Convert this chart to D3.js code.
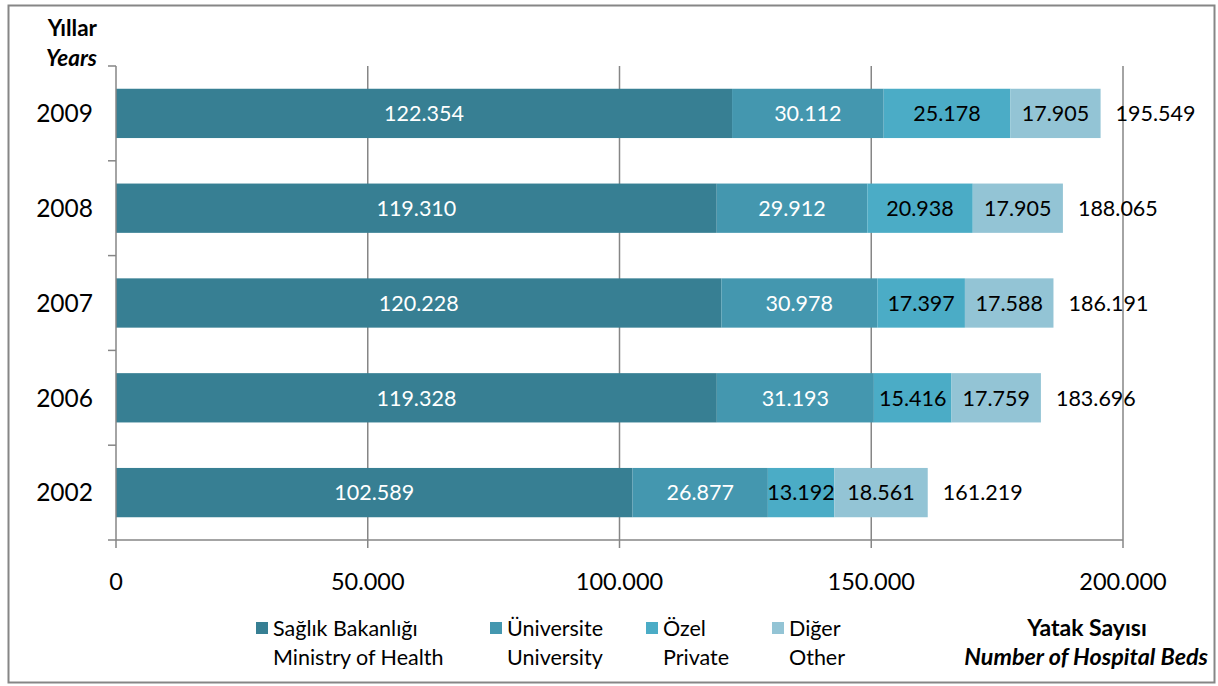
<!DOCTYPE html>
<html><head><meta charset="utf-8">
<script src="https://cdn.jsdelivr.net/npm/d3@7"></script>
<style>body{margin:0;background:#fff}svg{display:block}text{font-family:Lato,"Open Sans",sans-serif}</style>
</head><body><svg id="c" width="1218" height="686"></svg>
<script>
const years = ["2009","2008","2007","2006","2002"];
const seriesNames = ["Sağlık Bakanlığı","Üniversite","Özel","Diğer"];
const seriesNamesEn = ["Ministry of Health","University","Private","Other"];
const saglik = [122354,119310,120228,119328,102589];
const universite = [30112,29912,30978,31193,26877];
const ozel = [25178,20938,17397,15416,13192];
const diger = [17905,17905,17588,17759,18561];
const totals = [195549,188065,186191,183696,161219];
const xTicks = [0,50000,100000,150000,200000];
const colors = ["#377F93","#4497AF","#4BACC6","#93C4D5"];
const labelColors = ["#fff","#fff","#000","#000"];

const loc = d3.formatLocale({decimal:",",thousands:".",grouping:[3],currency:["",""]});
const fmt = loc.format(",d");

const svg = d3.select("#c");
svg.append("rect").attr("x",8.5).attr("y",5.5).attr("width",1206).attr("height",677)
  .attr("fill","#fff").attr("stroke","#868686").attr("stroke-width",2);

const x = d3.scaleLinear().domain([0,200000]).range([116,1123]);
const y = d3.scaleBand().domain(years).range([66,540]).paddingInner(0.48).paddingOuter(0.24);

const rows = years.map((yr,i)=>({year:yr, vals:[saglik[i],universite[i],ozel[i],diger[i]], total:totals[i]}));
const stack = d3.stack().keys([0,1,2,3]).value((d,k)=>d.vals[k]);
const stacked = stack(rows);

// gridlines
svg.append("g").selectAll("line").data(xTicks.slice(1)).join("line")
  .attr("x1",d=>x(d)).attr("x2",d=>x(d)).attr("y1",66).attr("y2",548)
  .attr("stroke","#868686").attr("stroke-width",1.5);

// bars
stacked.forEach((s,k)=>{
  const g = svg.append("g");
  g.selectAll("rect").data(s).join("rect")
    .attr("x",d=>x(d[0])).attr("width",d=>x(d[1])-x(d[0]))
    .attr("y",d=>y(d.data.year)).attr("height",y.bandwidth())
    .attr("fill",colors[k]);
  g.selectAll("text").data(s).join("text")
    .attr("x",d=>(x(d[0])+x(d[1]))/2).attr("y",d=>y(d.data.year)+y.bandwidth()/2)
    .attr("dy","0.36em").attr("text-anchor","middle").attr("font-size",21.5)
    .attr("fill",labelColors[k]).text(d=>fmt(d[1]-d[0]));
});
// totals
svg.append("g").selectAll("text").data(rows).join("text")
  .attr("x",d=>x(d.total)+15).attr("y",d=>y(d.year)+y.bandwidth()/2).attr("dy","0.36em")
  .attr("font-size",21.5).attr("fill","#000").text(d=>fmt(d.total));

// axes
const axG = svg.append("g").attr("stroke","#868686").attr("stroke-width",1.5);
axG.append("line").attr("x1",x(0)).attr("x2",x(200000)).attr("y1",540).attr("y2",540);
axG.append("line").attr("x1",x(0)).attr("x2",x(0)).attr("y1",66).attr("y2",548);
const bounds = [66].concat(years.map(yr=>y(yr)+y.bandwidth()+y.step()*y.paddingInner()/2).slice(0,4)).concat([540]);
axG.selectAll("line.t").data(bounds).join("line").attr("class","t")
  .attr("x1",x(0)-8).attr("x2",x(0)).attr("y1",d=>d).attr("y2",d=>d);

svg.append("g").selectAll("text").data(xTicks).join("text")
  .attr("x",d=>x(d)).attr("y",582).attr("dy","0.36em").attr("text-anchor","middle")
  .attr("font-size",23.5).text(d=>fmt(d));
svg.append("g").selectAll("text").data(years).join("text")
  .attr("x",93).attr("y",d=>y(d)+y.bandwidth()/2).attr("dy","0.36em").attr("text-anchor","end")
  .attr("font-size",24.5).text(d=>d);

svg.append("text").attr("x",97).attr("y",28).attr("dy","0.36em").attr("text-anchor","end")
  .attr("font-size",22.5).attr("font-weight","bold").text("Yıllar");
svg.append("text").attr("x",97).attr("y",58).attr("dy","0.36em").attr("text-anchor","end")
  .attr("font-size",22.5).attr("font-weight","bold").attr("font-style","italic").text("Years");

// legend
const legX = [256,490,646,772];
seriesNames.forEach((n,k)=>{
  svg.append("rect").attr("x",legX[k]).attr("y",622).attr("width",12).attr("height",12).attr("fill",colors[k]);
  svg.append("text").attr("x",legX[k]+17).attr("y",628).attr("dy","0.36em").attr("font-size",21.5).text(n);
  svg.append("text").attr("x",legX[k]+17).attr("y",657).attr("dy","0.36em").attr("font-size",21.5).text(seriesNamesEn[k]);
});
svg.append("text").attr("x",1087).attr("y",628).attr("dy","0.36em").attr("text-anchor","middle")
  .attr("font-size",23).attr("font-weight","bold").text("Yatak Sayısı");
svg.append("text").attr("x",1208).attr("y",657).attr("dy","0.36em").attr("text-anchor","end")
  .attr("font-size",23.3).attr("font-weight","bold").attr("font-style","italic").text("Number of Hospital Beds");
</script></body></html>
